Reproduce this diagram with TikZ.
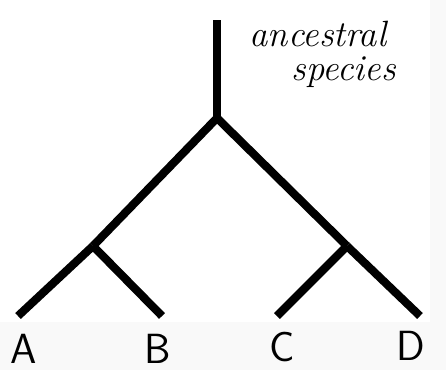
\documentclass[tikz,border=0pt]{standalone}
\usepackage{graphicx, amsmath, amssymb, tikz}
\usetikzlibrary{positioning}

\begin{document}
\begin{tikzpicture}[x=0.025cm, y=-0.025cm, branch/.style={line width=5.8pt, line cap=butt}]
    % Canvas
    \fill[white] (0,0) rectangle (446,370);
    \fill[gray!5] (0,322) rectangle (446,370);
    \fill[gray!5] (430,0) rectangle (446,370);
    \useasboundingbox (0,0) rectangle (446,370);

    % Draw nodes
    \coordinate (top) at (217,20);
    \coordinate (root) at (217,118);
    \coordinate (ab) at (93,246);
    \coordinate (cd) at (347,246);
    \coordinate (a) at (18,316);
    \coordinate (b) at (162,316);
    \coordinate (c) at (277,316);
    \coordinate (d) at (420,316);

    % Draw connections
    \draw[branch] (top) -- (root);
    \draw[branch] (root) -- (ab);
    \draw[branch] (ab) -- (a);
    \draw[branch] (ab) -- (b);
    \draw[branch] (root) -- (cd);
    \draw[branch] (cd) -- (c);
    \draw[branch] (cd) -- (d);

    % Labels
    \node[font=\sffamily\fontsize{30}{30}\selectfont] (la) at (24,349) {A};
    \node[font=\sffamily\fontsize{30}{30}\selectfont] (lb) at (158,349) {B};
    \node[font=\sffamily\fontsize{30}{30}\selectfont] (lc) at (282,347) {C};
    \node[font=\sffamily\fontsize{30}{30}\selectfont] (ld) at (411,346) {D};
    \node[font=\itshape\fontsize{26}{28}\selectfont, anchor=west, inner sep=1pt] (anc) at (248,34) {ancestral};
    \node[font=\itshape\fontsize{26}{28}\selectfont, anchor=west, inner sep=1pt] (spc) at (290,72) {species};
\end{tikzpicture}
\end{document}
